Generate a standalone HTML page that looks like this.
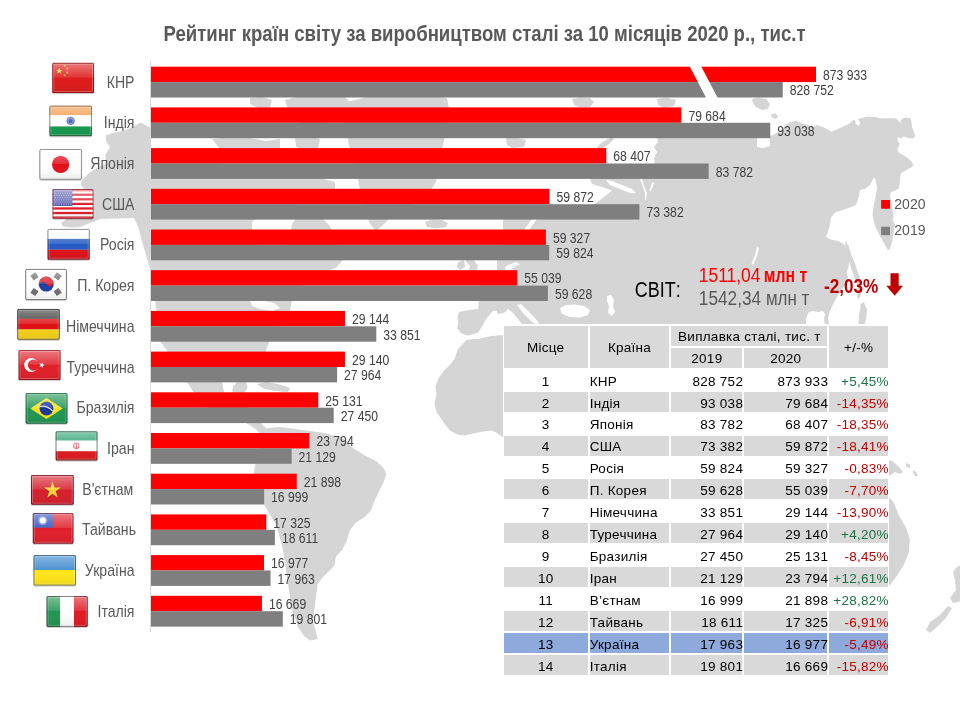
<!DOCTYPE html>
<html lang="uk">
<head>
<meta charset="utf-8">
<title>Рейтинг країн світу за виробництвом сталі</title>
<style>
html,body{margin:0;padding:0;background:#ffffff;}
body{width:960px;height:720px;position:relative;overflow:hidden;font-family:"Liberation Sans",sans-serif;}
svg#chart{position:absolute;left:0;top:0;will-change:transform;}
svg#chart text{font-family:"Liberation Sans",sans-serif;}
svg#chart text.v{font-size:15.5px;fill:#404040;}
svg#chart text.c{font-size:17.15px;fill:#595959;text-anchor:end;}
table#t{position:absolute;left:502.8px;top:324.2px;border-collapse:separate;border-spacing:0;table-layout:fixed;width:386.2px;font-family:"Liberation Sans",sans-serif;font-size:13.5px;letter-spacing:0.27px;color:#000;}
table#t td,table#t th{padding:0;box-sizing:border-box;border:1px solid #fff;white-space:nowrap;overflow:visible;font-weight:400;vertical-align:top;line-height:16px;}
table#t th{background:#d9d9d9;text-align:center;}
table#t tr.h1 th{height:22.9px;border-top-width:2px;padding-top:2.72px;padding-bottom:1.18px;}
table#t tr.h1 th[rowspan]{height:44.7px;padding-top:14.12px;padding-bottom:0;}
table#t tr.h2 th{height:21.8px;padding-top:2.92px;padding-bottom:0.88px;}
table#t tr td{height:21.93px;padding-top:3.72px;padding-bottom:0.21px;}
table#t td span{position:relative;left:0.9px;}
table#t tr.o td{background:#ffffff;}
table#t tr.e td{background:#d9d9d9;}
table#t tr.hl td{background:#8ea9db;}
table#t td.n{text-align:center;}
table#t td.k{text-align:left;padding-left:0.1px;}
table#t td.d{text-align:right;padding-right:0;}
table#t td.p{text-align:right;padding-right:0;}
table#t td.g{color:#1e7145;}
table#t td.r{color:#c00000;}
</style>
</head>
<body>
<svg id="chart" width="960" height="720" viewBox="0 0 960 720">
<g id="map" fill="#d5d5d5"><path d="M497,272 497,258 500,245 503,232 503,219 530,213 560,207 594,204.5 604,197 612,190.5 602,187 592,184 590,178.5 600,178.5 640,178.5 650,170 655,164 654,158 657,152 654,147 658,142 657,137 757,137 757,147 763,148 770,146 770,136 776,133.7 788.7,123 796,120.6 801,123 813.7,126.9 817,125 823,127 831.7,131.7 840,128 850,123.3 852,120.5 855,120 856,124 859,126 860,122 858,119 866.7,116.7 875,117 880,118.3 890,118.3 896,118.5 899,121 900.5,123.5 901,120 903,118 907,117.5 910.5,118.5 911.5,122 912,127 913.5,131 915.5,136 913,138.5 908,138 904,136.5 900.5,138.5 898,137 897.5,141 900,143.7 897.5,148.7 898.7,152.5 905,156 910,160 913.7,165 911.7,167 906.7,170 900.8,173.3 900,180 899,188.3 895,190.8 890.8,192 890,196.7 891.5,202.5 892.5,210 893.7,216 892.5,220 895,225 893.7,232.5 892.5,240 890,248.7 888,250.5 885,245 880,236 875,226 872.5,215 873.7,205 876,195 877,187.5 875.5,179 873.7,177.5 870,185 865,188.7 860,190 858.7,197.5 856,205 850,207.5 842.5,210 835,212.5 831,217.5 830,225 827.5,233 826,236.7 830.6,239.6 838,241 843.7,244 848,249.8 849.6,257 848.8,265.8 846.6,273 848,277.5 845,285 840,292 836.4,298 832,306.6 829.5,312.5 828,318.3 829,324 829,340 497,340Z"/>
<path d="M845,241 848.5,245.5 851,254 854.7,263 857.6,271.6 859.8,277.5 861.5,283 862,290 861,295 858.5,299.5 857,296 858,290 856.5,283 854,276 850.5,266 847.5,256 845.5,248Z"/>
<path d="M860.5,303.7 864,302.3 867,309.5 866.3,318.3 864,326 858.3,326 859,315.4 860.5,308Z"/>
<path d="M596,149 600,144 606,140 612,137 614,139 609,144 603,148 598,151Z"/>
<path d="M572,99 580,97.5 590,98 594,102 590,107 580,107.5 574,105Z"/>
<path d="M657,99 666,97.5 676,100 674,106 664,108 658,105Z"/>
<path d="M752,99 758,97.5 766,99 770,104 768,109 762,110 756,107 753,103Z"/>
<path d="M771,114 776,113.5 778,117 775,119 772,117.5Z"/>
<path d="M506,138 516,137.5 526,140 524,147 512,148 507,145Z"/>
<path d="M425,222 432,219.5 442,220 448,223 446,227 436,228.5 427,227Z"/>
<path d="M466,250 472,246 476,252 474,260 478,266 476,272 468,273 470,266 466,262Z"/>
<path d="M458,262 464,260 465,267 460,270 457,267Z"/>
<path d="M497,272 492,276 486,280 480,284 477,290 481,296 479,301 478,309 469,310 459,312 457.3,318 458.3,322 457.3,328.3 461.5,333.5 467.7,335.6 472,334.6 478,332.5 482.3,326.3 485.4,320 489.6,314.8 493,311 499,311 503,313 510,310 514,305 520,306 528,314 534,321 536,326 560,326 560,272Z"/>
<path d="M466.7,339.8 462.5,344 457.3,350.2 455.2,357.5 451,363.7 443.7,371 438.5,378.3 435.4,386.7 436.5,395 434.4,403.3 436.5,411.7 440.6,418 444.8,424.2 450,430.4 457.3,434.6 464.6,435.6 473,433.5 483.3,431.5 491.7,430.4 498,433.5 502,436.7 520,440 520,336 502,335.6 495.8,335.6 487.5,336.7 479,338.7 472,339.2Z"/>
<path d="M259.6,431 268,428 280,427 295,429 310,431 325,433 343.6,438.7 352.8,448 365,455.5 377.2,461.7 383.3,467.8 386.4,473.9 383.3,483 378.7,492.2 374.2,501.4 371.1,510.5 365,516.7 355.8,522.8 349.7,530.4 346.7,541.1 342.1,550.3 336,556.4 334.4,565.5 328.3,571.7 322.2,577.8 317.6,583.9 316.1,596.1 314.6,608.3 313,620.5 316.1,632.8 317.6,638.9 310,640.4 303.9,635.8 297.8,626.7 291.7,608.3 287.1,577.8 282.5,547.2 276.4,525.8 265.7,507.5 258,492.2 253.5,473.9 256.5,458.6 261.1,443.3Z"/>
<path d="M150,127.5 141,122.5 133.8,126 124.3,130.7 112.5,133 105.5,135.4 106.6,142.5 110.2,147.2 105.5,154.2 105.5,163.7 97,168 89,173 81.9,180.2 80.7,184.9 84,188 80,194 76,200 78,206 74,212 68,218 61,223 63,226.5 72,227.5 80,227 90,223 100.7,219 115,218.5 133.8,218 138.5,227.4 142,241.5 145.6,253.3 149,265 152,280 155,300 158,320 160,341 168,352 178,368 187,382 196,396 208,408 222,414 236,418 248,424 257,430 262,436 268,430 262,424 256,416 248,408 238,402 230,396 224,392 222,382 226,372 232,362 240,356 250,354 258,352 262,358 265,368 268,362 266,350 270,340 276,330 284,320 290,311 292,300 298,290 306,282 318,276 328,271 337,267 342,261 343,254 340,246 334,236 330,226 322,218 310,214 298,216 292,224 290,238 284,250 272,254 260,248 252,236 252,222 262,212 280,208 300,204 320,198 335,190 335,182 320,178 300,176 280,174 260,172 240,170 225,166 212,158 200,151 170,150 151,149Z"/>
<path d="M232,396 233,386 238,381.5 246,382 247.5,388 243,395 237,399Z"/>
<path d="M257,384 266,382 278,384 290,388 288,392 276,391 264,389Z"/>
<path d="M212,139 230,137 250,138 266,141 280,139 280,149 262,152 240,150 220,149Z"/>
<path d="M295,137 310,136 320,139 318,149 304,150 296,147Z"/>
<path d="M250,98 262,97 272,100 270,108 258,108 250,104Z"/>
<path d="M200,181 215,178 235,180 240,188 225,190 205,189Z"/>
<path d="M285,100 300,96 325,95 345,97 352,104 345,112 330,120 318,130 305,128 298,118 288,110Z"/>
<path d="M347,102 370,96 400,94 430,95 447,98 449,108 446,125 444,140 440,160 436,182 426,198 408,208 392,216 382,226 376,231 370,224 364,208 360,190 356,170 350,150 347,135 343,120Z"/>
<path d="M888,460 892,461 896,464 900,468 903,472 900,474 895,472 891,475 888,476Z"/>
<path d="M906,463 909,464 911,467 909,468 906,466Z"/>
<path d="M913,470 916,472 918,476 915,476 913,473Z"/>
<path d="M880,493 887.5,495 893.7,502.5 898.7,515 906,527.5 910,540 908.7,552.5 903.7,565 897.5,575 891,583.7 887.5,587.5 880,589Z"/>
<path d="M953,572 958,566 962,566 962,601 953,603 950,598 956,590 955,580Z"/>
<path d="M926,630 930,622 940,615 948,606 952,608 946,618 938,626 930,633Z"/>
<path fill="#ffffff" d="M808,313 812,311 818,312 823,311 825,314 824,319 825,325.5 806,325.5 806,319Z"/>
<path fill="#ffffff" d="M606,180 612,181 622,185 632,189 636,193 630,193 620,189 610,185Z"/>
<path fill="#ffffff" d="M640,179 642,179 644,186 647,193 646,200 645,200 645,193 642.5,186Z"/>
<path fill="#ffffff" d="M652,183 654,182 653,187 650,192 649.5,190Z"/>
<path fill="#ffffff" d="M532,219 537,219 529,230 524,230Z"/>
<path fill="#ffffff" d="M506,266 516,262 520,264 510,270 505,270Z"/>
<path fill="#ffffff" d="M478,333 482.5,327 485.5,320.5 489.5,315 493,311.5 499,314 505,312.5 508,309 512,312 518,319 523,325.5 503.75,325.5 503.75,335.2 496,335.2 487.5,336.3 479,338.3 473,338.8 472,335Z"/>
<path fill="#ffffff" d="M517,305 521,304 528,311 535,318 539,323 536,325 530,320 523,313Z"/>
<path fill="#ffffff" d="M560,308 566,305 575,304.5 584,306 590,310 588,315 580,317.5 570,317 562,314Z"/>
<path fill="#ffffff" d="M607,296 611,295 614,300 613,306 615,312 612,316 608,313 609,306 607,301Z"/>
<path fill="#ffffff" d="M757,247 759,248 757,256 753,265 751.5,264 755,255Z"/>
<path fill="#ffffff" d="M250,301 262,300.5 274,303 280,308 272,311 260,309 252,306Z"/></g>
<rect x="150" y="61" width="1" height="571" fill="#d9d9d9"/>
<rect x="151" y="66.7" width="665.00" height="15.4" fill="#ff0000"/>
<rect x="151" y="82.10" width="631.75" height="15.4" fill="#7f7f7f"/>
<text transform="translate(823.0,79.9) scale(0.786,1)" class="v">873 933</text>
<text transform="translate(789.8,95.3) scale(0.786,1)" class="v">828 752</text>
<text transform="translate(134.5,87.6) scale(0.822,1)" class="c">КНР</text>
<rect x="151" y="107.4" width="530.38" height="15.4" fill="#ff0000"/>
<rect x="151" y="122.80" width="619.26" height="15.4" fill="#7f7f7f"/>
<text transform="translate(688.4,120.6) scale(0.786,1)" class="v">79 684</text>
<text transform="translate(777.3,136.0) scale(0.786,1)" class="v">93 038</text>
<text transform="translate(134.5,128.3) scale(0.822,1)" class="c">Індія</text>
<rect x="151" y="148.1" width="455.32" height="15.4" fill="#ff0000"/>
<rect x="151" y="163.50" width="557.65" height="15.4" fill="#7f7f7f"/>
<text transform="translate(613.3,161.3) scale(0.786,1)" class="v">68 407</text>
<text transform="translate(715.7,176.7) scale(0.786,1)" class="v">83 782</text>
<text transform="translate(134.5,169.0) scale(0.822,1)" class="c">Японія</text>
<rect x="151" y="188.8" width="398.51" height="15.4" fill="#ff0000"/>
<rect x="151" y="204.20" width="488.43" height="15.4" fill="#7f7f7f"/>
<text transform="translate(556.5,202.0) scale(0.786,1)" class="v">59 872</text>
<text transform="translate(646.4,217.4) scale(0.786,1)" class="v">73 382</text>
<text transform="translate(134.5,209.7) scale(0.822,1)" class="c">США</text>
<rect x="151" y="229.5" width="394.88" height="15.4" fill="#ff0000"/>
<rect x="151" y="244.90" width="398.19" height="15.4" fill="#7f7f7f"/>
<text transform="translate(552.9,242.7) scale(0.786,1)" class="v">59 327</text>
<text transform="translate(556.2,258.1) scale(0.786,1)" class="v">59 824</text>
<text transform="translate(134.5,250.4) scale(0.822,1)" class="c">Росія</text>
<rect x="151" y="270.2" width="366.34" height="15.4" fill="#ff0000"/>
<rect x="151" y="285.60" width="396.88" height="15.4" fill="#7f7f7f"/>
<text transform="translate(524.3,283.4) scale(0.786,1)" class="v">55 039</text>
<text transform="translate(554.9,298.8) scale(0.786,1)" class="v">59 628</text>
<text transform="translate(134.5,291.1) scale(0.822,1)" class="c">П. Корея</text>
<rect x="151" y="310.9" width="193.98" height="15.4" fill="#ff0000"/>
<rect x="151" y="326.30" width="225.31" height="15.4" fill="#7f7f7f"/>
<text transform="translate(352.0,324.1) scale(0.786,1)" class="v">29 144</text>
<text transform="translate(383.3,339.5) scale(0.786,1)" class="v">33 851</text>
<text transform="translate(134.5,331.8) scale(0.822,1)" class="c">Німеччина</text>
<rect x="151" y="351.6" width="193.96" height="15.4" fill="#ff0000"/>
<rect x="151" y="367.00" width="186.13" height="15.4" fill="#7f7f7f"/>
<text transform="translate(352.0,364.8) scale(0.786,1)" class="v">29 140</text>
<text transform="translate(344.1,380.2) scale(0.786,1)" class="v">27 964</text>
<text transform="translate(134.5,372.5) scale(0.822,1)" class="c">Туреччина</text>
<rect x="151" y="392.3" width="167.27" height="15.4" fill="#ff0000"/>
<rect x="151" y="407.70" width="182.71" height="15.4" fill="#7f7f7f"/>
<text transform="translate(325.3,405.5) scale(0.786,1)" class="v">25 131</text>
<text transform="translate(340.7,420.9) scale(0.786,1)" class="v">27 450</text>
<text transform="translate(134.5,413.2) scale(0.822,1)" class="c">Бразилія</text>
<rect x="151" y="433.0" width="158.37" height="15.4" fill="#ff0000"/>
<rect x="151" y="448.40" width="140.63" height="15.4" fill="#7f7f7f"/>
<text transform="translate(316.4,446.2) scale(0.786,1)" class="v">23 794</text>
<text transform="translate(298.6,461.6) scale(0.786,1)" class="v">21 129</text>
<text transform="translate(134.5,453.9) scale(0.822,1)" class="c">Іран</text>
<rect x="151" y="473.7" width="145.75" height="15.4" fill="#ff0000"/>
<rect x="151" y="489.10" width="113.15" height="15.4" fill="#7f7f7f"/>
<text transform="translate(303.8,486.9) scale(0.786,1)" class="v">21 898</text>
<text transform="translate(271.1,502.3) scale(0.786,1)" class="v">16 999</text>
<text transform="translate(133.3,494.6) scale(0.822,1)" class="c">В'єтнам</text>
<rect x="151" y="514.4" width="115.32" height="15.4" fill="#ff0000"/>
<rect x="151" y="529.80" width="123.87" height="15.4" fill="#7f7f7f"/>
<text transform="translate(273.3,527.6) scale(0.786,1)" class="v">17 325</text>
<text transform="translate(281.9,543.0) scale(0.786,1)" class="v">18 611</text>
<text transform="translate(136,535.3) scale(0.822,1)" class="c">Тайвань</text>
<rect x="151" y="555.1" width="113.00" height="15.4" fill="#ff0000"/>
<rect x="151" y="570.50" width="119.56" height="15.4" fill="#7f7f7f"/>
<text transform="translate(271.0,568.3) scale(0.786,1)" class="v">16 977</text>
<text transform="translate(277.6,583.7) scale(0.786,1)" class="v">17 963</text>
<text transform="translate(134.5,576.0) scale(0.822,1)" class="c">Україна</text>
<rect x="151" y="595.8" width="110.95" height="15.4" fill="#ff0000"/>
<rect x="151" y="611.20" width="131.80" height="15.4" fill="#7f7f7f"/>
<text transform="translate(268.9,609.0) scale(0.786,1)" class="v">16 669</text>
<text transform="translate(289.8,624.4) scale(0.786,1)" class="v">19 801</text>
<text transform="translate(134.5,616.7) scale(0.822,1)" class="c">Італія</text>
<polygon points="689.5,66 701,66 718,98.5 706.5,98.5" fill="#ffffff"/>
<g id="flags"><defs>
<linearGradient id="gloss" x1="0" y1="0" x2="0" y2="1"><stop offset="0" stop-color="#fff" stop-opacity="0.42"/><stop offset="0.48" stop-color="#fff" stop-opacity="0.12"/><stop offset="0.5" stop-color="#fff" stop-opacity="0"/><stop offset="1" stop-color="#000" stop-opacity="0.08"/></linearGradient>
<clipPath id="c_cn"><rect x="52.25" y="62.75" width="41.75" height="30.35" rx="1.1"/></clipPath>
<clipPath id="c_in"><rect x="49.4" y="105.6" width="42.5" height="30.65" rx="1.1"/></clipPath>
<clipPath id="c_jp"><rect x="39.4" y="149" width="42.5" height="30.75" rx="1.1"/></clipPath>
<clipPath id="c_us"><rect x="52.5" y="189" width="41" height="29.75" rx="1.1"/></clipPath>
<clipPath id="c_ru"><rect x="47.5" y="228.9" width="42.25" height="30.85" rx="1.1"/></clipPath>
<clipPath id="c_kr"><rect x="25.25" y="268.9" width="41.65" height="31.1" rx="1.1"/></clipPath>
<clipPath id="c_de"><rect x="17.25" y="308.9" width="42.5" height="30.85" rx="1.1"/></clipPath>
<clipPath id="c_tr"><rect x="18.5" y="350" width="42.1" height="30" rx="1.1"/></clipPath>
<clipPath id="c_br"><rect x="25.6" y="393.1" width="41.9" height="30.65" rx="1.1"/></clipPath>
<clipPath id="c_ir"><rect x="55.6" y="431.25" width="41.9" height="29.35" rx="1.1"/></clipPath>
<clipPath id="c_vn"><rect x="31" y="475" width="42.75" height="29.75" rx="1.1"/></clipPath>
<clipPath id="c_tw"><rect x="32.75" y="513.1" width="40.75" height="30.65" rx="1.1"/></clipPath>
<clipPath id="c_ua"><rect x="33.5" y="555" width="42.5" height="30.6" rx="1.1"/></clipPath>
<clipPath id="c_it"><rect x="46.5" y="596" width="41.25" height="30.9" rx="1.1"/></clipPath>
</defs>
<rect x="51.95" y="63.55" width="42.35" height="30.75" rx="2" fill="#000" opacity="0.16"/>
<g clip-path="url(#c_cn)"><rect x="52.25" y="62.75" width="41.75" height="30.35" fill="#de1a1a"/><polygon points="59.25,67.65 60.01,70.00 62.48,70.00 60.49,71.45 61.25,73.80 59.25,72.35 57.25,73.80 58.01,71.45 56.02,70.00 58.49,70.00" fill="#ffd92e"/><circle cx="64.55" cy="65.75" r="0.95" fill="#ffd92e" opacity="0.85"/><circle cx="67.25" cy="68.55" r="0.95" fill="#ffd92e" opacity="0.85"/><circle cx="67.25" cy="72.55" r="0.95" fill="#ffd92e" opacity="0.85"/><circle cx="64.55" cy="75.35" r="0.95" fill="#ffd92e" opacity="0.85"/><rect x="52.25" y="62.75" width="41.75" height="30.35" fill="url(#gloss)"/></g>
<rect x="53.75" y="64.25" width="38.75" height="27.35" rx="0.8" fill="none" stroke="#fff" stroke-opacity="0.28" stroke-width="1"/>
<rect x="52.75" y="63.25" width="40.75" height="29.35" rx="0.9" fill="none" stroke="#5a0000" stroke-opacity="0.55" stroke-width="1"/>
<rect x="49.1" y="106.4" width="43.1" height="31.05" rx="2" fill="#000" opacity="0.16"/>
<g clip-path="url(#c_in)"><rect x="49.4" y="105.6" width="42.5" height="9.6" fill="#f39a4a"/><rect x="49.4" y="115.2" width="42.5" height="11.3" fill="#ffffff"/><rect x="49.4" y="126.5" width="42.5" height="9.75" fill="#159a4c"/><circle cx="70.65" cy="120.8" r="4.1" fill="#8fa3d6"/><circle cx="70.65" cy="120.8" r="2.2" fill="#4a63b5"/><circle cx="70.65" cy="120.8" r="3.6" fill="none" stroke="#4a63b5" stroke-width="0.8" opacity="0.8"/><rect x="49.4" y="105.6" width="42.5" height="30.65" fill="url(#gloss)"/></g>
<rect x="50.9" y="107.1" width="39.5" height="27.65" rx="0.8" fill="none" stroke="#fff" stroke-opacity="0.28" stroke-width="1"/>
<rect x="49.9" y="106.1" width="41.5" height="29.65" rx="0.9" fill="none" stroke="#3a2a1a" stroke-opacity="0.5" stroke-width="1"/>
<rect x="39.1" y="149.8" width="43.1" height="31.15" rx="2" fill="#000" opacity="0.16"/>
<g clip-path="url(#c_jp)"><rect x="39.4" y="149" width="42.5" height="30.75" fill="#ffffff"/><circle cx="60.6" cy="164.4" r="8.6" fill="#e30f1c"/><rect x="39.4" y="149" width="42.5" height="30.75" fill="url(#gloss)"/></g>
<rect x="40.9" y="150.5" width="39.5" height="27.75" rx="0.8" fill="none" stroke="#fff" stroke-opacity="0.28" stroke-width="1"/>
<rect x="39.9" y="149.5" width="41.5" height="29.75" rx="0.9" fill="none" stroke="#000" stroke-opacity="0.42" stroke-width="1"/>
<rect x="52.2" y="189.8" width="41.6" height="30.15" rx="2" fill="#000" opacity="0.16"/>
<g clip-path="url(#c_us)"><rect x="52.5" y="189" width="41" height="29.75" fill="#ffffff"/><rect x="52.5" y="189" width="41" height="2.28846" fill="#e01a2a"/><rect x="52.5" y="193.577" width="41" height="2.28846" fill="#e01a2a"/><rect x="52.5" y="198.154" width="41" height="2.28846" fill="#e01a2a"/><rect x="52.5" y="202.731" width="41" height="2.28846" fill="#e01a2a"/><rect x="52.5" y="207.308" width="41" height="2.28846" fill="#e01a2a"/><rect x="52.5" y="211.885" width="41" height="2.28846" fill="#e01a2a"/><rect x="52.5" y="216.462" width="41" height="2.28846" fill="#e01a2a"/><rect x="52.5" y="189" width="20" height="17" fill="#5b5fb3"/><g fill="#fff" opacity="0.55"><circle cx="54.50" cy="191.00" r="0.6"/><circle cx="56.85" cy="191.00" r="0.6"/><circle cx="59.20" cy="191.00" r="0.6"/><circle cx="61.55" cy="191.00" r="0.6"/><circle cx="63.90" cy="191.00" r="0.6"/><circle cx="66.25" cy="191.00" r="0.6"/><circle cx="68.60" cy="191.00" r="0.6"/><circle cx="70.95" cy="191.00" r="0.6"/><circle cx="55.67" cy="193.20" r="0.6"/><circle cx="58.02" cy="193.20" r="0.6"/><circle cx="60.37" cy="193.20" r="0.6"/><circle cx="62.72" cy="193.20" r="0.6"/><circle cx="65.07" cy="193.20" r="0.6"/><circle cx="67.42" cy="193.20" r="0.6"/><circle cx="69.77" cy="193.20" r="0.6"/><circle cx="72.12" cy="193.20" r="0.6"/><circle cx="54.50" cy="195.40" r="0.6"/><circle cx="56.85" cy="195.40" r="0.6"/><circle cx="59.20" cy="195.40" r="0.6"/><circle cx="61.55" cy="195.40" r="0.6"/><circle cx="63.90" cy="195.40" r="0.6"/><circle cx="66.25" cy="195.40" r="0.6"/><circle cx="68.60" cy="195.40" r="0.6"/><circle cx="70.95" cy="195.40" r="0.6"/><circle cx="55.67" cy="197.60" r="0.6"/><circle cx="58.02" cy="197.60" r="0.6"/><circle cx="60.37" cy="197.60" r="0.6"/><circle cx="62.72" cy="197.60" r="0.6"/><circle cx="65.07" cy="197.60" r="0.6"/><circle cx="67.42" cy="197.60" r="0.6"/><circle cx="69.77" cy="197.60" r="0.6"/><circle cx="72.12" cy="197.60" r="0.6"/><circle cx="54.50" cy="199.80" r="0.6"/><circle cx="56.85" cy="199.80" r="0.6"/><circle cx="59.20" cy="199.80" r="0.6"/><circle cx="61.55" cy="199.80" r="0.6"/><circle cx="63.90" cy="199.80" r="0.6"/><circle cx="66.25" cy="199.80" r="0.6"/><circle cx="68.60" cy="199.80" r="0.6"/><circle cx="70.95" cy="199.80" r="0.6"/><circle cx="55.67" cy="202.00" r="0.6"/><circle cx="58.02" cy="202.00" r="0.6"/><circle cx="60.37" cy="202.00" r="0.6"/><circle cx="62.72" cy="202.00" r="0.6"/><circle cx="65.07" cy="202.00" r="0.6"/><circle cx="67.42" cy="202.00" r="0.6"/><circle cx="69.77" cy="202.00" r="0.6"/><circle cx="72.12" cy="202.00" r="0.6"/><circle cx="54.50" cy="204.20" r="0.6"/><circle cx="56.85" cy="204.20" r="0.6"/><circle cx="59.20" cy="204.20" r="0.6"/><circle cx="61.55" cy="204.20" r="0.6"/><circle cx="63.90" cy="204.20" r="0.6"/><circle cx="66.25" cy="204.20" r="0.6"/><circle cx="68.60" cy="204.20" r="0.6"/><circle cx="70.95" cy="204.20" r="0.6"/></g><rect x="52.5" y="189" width="41" height="29.75" fill="url(#gloss)"/></g>
<rect x="54" y="190.5" width="38" height="26.75" rx="0.8" fill="none" stroke="#fff" stroke-opacity="0.28" stroke-width="1"/>
<rect x="53" y="189.5" width="40" height="28.75" rx="0.9" fill="none" stroke="#5a0010" stroke-opacity="0.5" stroke-width="1"/>
<rect x="47.2" y="229.7" width="42.85" height="31.25" rx="2" fill="#000" opacity="0.16"/>
<g clip-path="url(#c_ru)"><rect x="47.5" y="228.9" width="42.25" height="10" fill="#ffffff"/><rect x="47.5" y="238.9" width="42.25" height="10.85" fill="#2559c4"/><rect x="47.5" y="249.75" width="42.25" height="10" fill="#e0121a"/><rect x="47.5" y="228.9" width="42.25" height="30.85" fill="url(#gloss)"/></g>
<rect x="49" y="230.4" width="39.25" height="27.85" rx="0.8" fill="none" stroke="#fff" stroke-opacity="0.28" stroke-width="1"/>
<rect x="48" y="229.4" width="41.25" height="29.85" rx="0.9" fill="none" stroke="#101030" stroke-opacity="0.45" stroke-width="1"/>
<rect x="24.95" y="269.7" width="42.25" height="31.5" rx="2" fill="#000" opacity="0.16"/>
<g clip-path="url(#c_kr)"><rect x="25.25" y="268.9" width="41.65" height="31.1" fill="#ffffff"/><circle cx="46.25" cy="284.1" r="7.5" fill="#1f3fa0"/><path d="M38.75,284.1 A7.5,7.5 0 0 1 53.75,284.1 A3.75,3.75 0 0 1 46.25,284.1 A3.75,3.75 0 0 0 38.75,284.1Z" fill="#e0202a" transform="rotate(-28 46.25 284.1)"/><rect x="-3" y="-2.9" width="6" height="5.8" transform="translate(34.45,276.4) rotate(-35)" fill="#555" opacity="0.85"/><rect x="-3" y="-2.9" width="6" height="5.8" transform="translate(57.65,276.4) rotate(35)" fill="#555" opacity="0.85"/><rect x="-3" y="-2.9" width="6" height="5.8" transform="translate(34.45,292) rotate(35)" fill="#555" opacity="0.85"/><rect x="-3" y="-2.9" width="6" height="5.8" transform="translate(57.65,292) rotate(-35)" fill="#555" opacity="0.85"/><rect x="25.25" y="268.9" width="41.65" height="31.1" fill="url(#gloss)"/></g>
<rect x="26.75" y="270.4" width="38.65" height="28.1" rx="0.8" fill="none" stroke="#fff" stroke-opacity="0.28" stroke-width="1"/>
<rect x="25.75" y="269.4" width="40.65" height="30.1" rx="0.9" fill="none" stroke="#000" stroke-opacity="0.5" stroke-width="1"/>
<rect x="16.95" y="309.7" width="43.1" height="31.25" rx="2" fill="#000" opacity="0.16"/>
<g clip-path="url(#c_de)"><rect x="17.25" y="308.9" width="42.5" height="10" fill="#3a3a3a"/><rect x="17.25" y="318.9" width="42.5" height="10.6" fill="#e01014"/><rect x="17.25" y="329.5" width="42.5" height="10.25" fill="#f7d116"/><rect x="17.25" y="308.9" width="42.5" height="30.85" fill="url(#gloss)"/></g>
<rect x="18.75" y="310.4" width="39.5" height="27.85" rx="0.8" fill="none" stroke="#fff" stroke-opacity="0.28" stroke-width="1"/>
<rect x="17.75" y="309.4" width="41.5" height="29.85" rx="0.9" fill="none" stroke="#000" stroke-opacity="0.5" stroke-width="1"/>
<rect x="18.2" y="350.8" width="42.7" height="30.4" rx="2" fill="#000" opacity="0.16"/>
<g clip-path="url(#c_tr)"><rect x="18.5" y="350" width="42.1" height="30" fill="#e01e28"/><circle cx="31.25" cy="365.1" r="7" fill="#fff"/><circle cx="33.4" cy="365.1" r="5.6" fill="#e01e28"/><polygon points="42.86,362.15 42.86,364.40 45.00,365.10 42.86,365.80 42.86,368.05 41.53,366.23 39.39,366.92 40.72,365.10 39.39,363.28 41.53,363.97" fill="#fff"/><rect x="18.5" y="350" width="42.1" height="30" fill="url(#gloss)"/></g>
<rect x="20" y="351.5" width="39.1" height="27" rx="0.8" fill="none" stroke="#fff" stroke-opacity="0.28" stroke-width="1"/>
<rect x="19" y="350.5" width="41.1" height="29" rx="0.9" fill="none" stroke="#5a0008" stroke-opacity="0.5" stroke-width="1"/>
<rect x="25.3" y="393.9" width="42.5" height="31.05" rx="2" fill="#000" opacity="0.16"/>
<g clip-path="url(#c_br)"><rect x="25.6" y="393.1" width="41.9" height="30.65" fill="#219652"/><polygon points="30.3,408.5 46.5,397.9 62.7,408.5 46.5,419.1" fill="#fbe122"/><circle cx="46.5" cy="408.5" r="6.9" fill="#1a3796"/><path d="M39.9,406.5 Q46.5,404.9 52.9,411.1" fill="none" stroke="#fff" stroke-width="1.1" opacity="0.85"/><rect x="25.6" y="393.1" width="41.9" height="30.65" fill="url(#gloss)"/></g>
<rect x="27.1" y="394.6" width="38.9" height="27.65" rx="0.8" fill="none" stroke="#fff" stroke-opacity="0.28" stroke-width="1"/>
<rect x="26.1" y="393.6" width="40.9" height="29.65" rx="0.9" fill="none" stroke="#00301a" stroke-opacity="0.5" stroke-width="1"/>
<rect x="55.3" y="432.05" width="42.5" height="29.75" rx="2" fill="#000" opacity="0.16"/>
<g clip-path="url(#c_ir)"><rect x="55.6" y="431.25" width="41.9" height="9.4" fill="#2ea370"/><rect x="55.6" y="440.65" width="41.9" height="10.6" fill="#ffffff"/><rect x="55.6" y="451.25" width="41.9" height="9.35" fill="#e01a1e"/><circle cx="76.3" cy="445.65" r="2.7" fill="none" stroke="#ee7a84" stroke-width="1.1"/><rect x="75.9" y="443.25" width="0.9" height="5.6" fill="#e65a66"/><rect x="55.6" y="431.25" width="41.9" height="29.35" fill="url(#gloss)"/></g>
<rect x="57.1" y="432.75" width="38.9" height="26.35" rx="0.8" fill="none" stroke="#fff" stroke-opacity="0.28" stroke-width="1"/>
<rect x="56.1" y="431.75" width="40.9" height="28.35" rx="0.9" fill="none" stroke="#102818" stroke-opacity="0.5" stroke-width="1"/>
<rect x="30.7" y="475.8" width="43.35" height="30.15" rx="2" fill="#000" opacity="0.16"/>
<g clip-path="url(#c_vn)"><rect x="31" y="475" width="42.75" height="29.75" fill="#d51f2c"/><polygon points="52.50,481.50 54.48,487.58 60.87,487.58 55.70,491.34 57.67,497.42 52.50,493.66 47.33,497.42 49.30,491.34 44.13,487.58 50.52,487.58" fill="#fbd42e"/><rect x="31" y="475" width="42.75" height="29.75" fill="url(#gloss)"/></g>
<rect x="32.5" y="476.5" width="39.75" height="26.75" rx="0.8" fill="none" stroke="#fff" stroke-opacity="0.28" stroke-width="1"/>
<rect x="31.5" y="475.5" width="41.75" height="28.75" rx="0.9" fill="none" stroke="#4a0010" stroke-opacity="0.6" stroke-width="1"/>
<rect x="32.45" y="513.9" width="41.35" height="31.05" rx="2" fill="#000" opacity="0.16"/>
<g clip-path="url(#c_tw)"><rect x="32.75" y="513.1" width="40.75" height="30.65" fill="#e01e2a"/><rect x="32.75" y="513.1" width="20" height="14.6" fill="#2f4fbe"/><circle cx="42.75" cy="520.6" r="4.6" fill="#fff" opacity="0.35"/><circle cx="42.75" cy="520.6" r="3" fill="#fff"/><rect x="32.75" y="513.1" width="40.75" height="30.65" fill="url(#gloss)"/></g>
<rect x="34.25" y="514.6" width="37.75" height="27.65" rx="0.8" fill="none" stroke="#fff" stroke-opacity="0.28" stroke-width="1"/>
<rect x="33.25" y="513.6" width="39.75" height="29.65" rx="0.9" fill="none" stroke="#4a0010" stroke-opacity="0.5" stroke-width="1"/>
<rect x="33.2" y="555.8" width="43.1" height="31" rx="2" fill="#000" opacity="0.16"/>
<g clip-path="url(#c_ua)"><rect x="33.5" y="555" width="42.5" height="15" fill="#3585cc"/><rect x="33.5" y="570" width="42.5" height="15.6" fill="#ffe619"/><rect x="33.5" y="555" width="42.5" height="30.6" fill="url(#gloss)"/></g>
<rect x="35" y="556.5" width="39.5" height="27.6" rx="0.8" fill="none" stroke="#fff" stroke-opacity="0.28" stroke-width="1"/>
<rect x="34" y="555.5" width="41.5" height="29.6" rx="0.9" fill="none" stroke="#1a2a3a" stroke-opacity="0.5" stroke-width="1"/>
<rect x="46.2" y="596.8" width="41.85" height="31.3" rx="2" fill="#000" opacity="0.16"/>
<g clip-path="url(#c_it)"><rect x="46.5" y="596" width="13.75" height="30.9" fill="#1f9650"/><rect x="60.25" y="596" width="13.75" height="30.9" fill="#ffffff"/><rect x="74" y="596" width="13.75" height="30.9" fill="#e01824"/><rect x="46.5" y="596" width="41.25" height="30.9" fill="url(#gloss)"/></g>
<rect x="48" y="597.5" width="38.25" height="27.9" rx="0.8" fill="none" stroke="#fff" stroke-opacity="0.28" stroke-width="1"/>
<rect x="47" y="596.5" width="40.25" height="29.9" rx="0.9" fill="none" stroke="#201010" stroke-opacity="0.5" stroke-width="1"/></g>
<text x="163.5" y="40.6" textLength="642" lengthAdjust="spacingAndGlyphs" font-size="21.4" font-weight="700" fill="#595959">Рейтинг країн світу за виробництвом сталі за 10 місяців 2020 р., тис.т</text>
<rect x="881.1" y="200" width="8.9" height="8.7" fill="#ff0000"/>
<rect x="881.1" y="226.7" width="8.9" height="8.5" fill="#7f7f7f"/>
<text x="894.3" y="208.6" textLength="31.2" lengthAdjust="spacingAndGlyphs" font-size="13.8" fill="#595959">2020</text>
<text x="894.3" y="235" textLength="31.2" lengthAdjust="spacingAndGlyphs" font-size="13.8" fill="#595959">2019</text>
<text x="634.7" y="297" textLength="46" lengthAdjust="spacingAndGlyphs" font-size="22.2" fill="#000000">СВІТ:</text>
<text x="698.8" y="281.6" textLength="61.7" lengthAdjust="spacingAndGlyphs" font-size="19.9" fill="#ff0000">1511,04</text>
<text x="763.8" y="281.6" textLength="43.4" lengthAdjust="spacingAndGlyphs" font-size="19.9" font-weight="700" fill="#ff0000">млн т</text>
<text x="698.8" y="304.7" textLength="62.3" lengthAdjust="spacingAndGlyphs" font-size="19.9" fill="#595959">1542,34</text>
<text x="765.9" y="304.7" textLength="43.3" lengthAdjust="spacingAndGlyphs" font-size="19.9" fill="#595959">млн т</text>
<text x="824" y="293" textLength="54.3" lengthAdjust="spacingAndGlyphs" font-size="20.3" font-weight="700" fill="#c00000">-2,03%</text>
<polygon points="890.5,273.3 898.7,273.3 898.7,285.8 903,285.8 894.7,295.8 886.3,285.8 890.5,285.8" fill="#c00000"/>
</svg>
<table id="t">
<colgroup><col style="width:85.8px"><col style="width:81.85px"><col style="width:72.85px"><col style="width:85px"><col style="width:60.7px"></colgroup>
<tr class="h1"><th rowspan="2">Місце</th><th rowspan="2">Країна</th><th colspan="2">Виплавка сталі, тис. т</th><th rowspan="2">+/-%</th></tr>
<tr class="h2"><th>2019</th><th>2020</th></tr>
<tr class="o"><td class="n">1</td><td class="k">КНР</td><td class="d"><span>828 752</span></td><td class="d"><span>873 933</span></td><td class="p g"><span>+5,45%</span></td></tr>
<tr class="e"><td class="n">2</td><td class="k">Індія</td><td class="d"><span>93 038</span></td><td class="d"><span>79 684</span></td><td class="p r"><span>-14,35%</span></td></tr>
<tr class="o"><td class="n">3</td><td class="k">Японія</td><td class="d"><span>83 782</span></td><td class="d"><span>68 407</span></td><td class="p r"><span>-18,35%</span></td></tr>
<tr class="e"><td class="n">4</td><td class="k">США</td><td class="d"><span>73 382</span></td><td class="d"><span>59 872</span></td><td class="p r"><span>-18,41%</span></td></tr>
<tr class="o"><td class="n">5</td><td class="k">Росія</td><td class="d"><span>59 824</span></td><td class="d"><span>59 327</span></td><td class="p r"><span>-0,83%</span></td></tr>
<tr class="e"><td class="n">6</td><td class="k">П. Корея</td><td class="d"><span>59 628</span></td><td class="d"><span>55 039</span></td><td class="p r"><span>-7,70%</span></td></tr>
<tr class="o"><td class="n">7</td><td class="k">Німеччина</td><td class="d"><span>33 851</span></td><td class="d"><span>29 144</span></td><td class="p r"><span>-13,90%</span></td></tr>
<tr class="e"><td class="n">8</td><td class="k">Туреччина</td><td class="d"><span>27 964</span></td><td class="d"><span>29 140</span></td><td class="p g"><span>+4,20%</span></td></tr>
<tr class="o"><td class="n">9</td><td class="k">Бразилія</td><td class="d"><span>27 450</span></td><td class="d"><span>25 131</span></td><td class="p r"><span>-8,45%</span></td></tr>
<tr class="e"><td class="n">10</td><td class="k">Іран</td><td class="d"><span>21 129</span></td><td class="d"><span>23 794</span></td><td class="p g"><span>+12,61%</span></td></tr>
<tr class="o"><td class="n">11</td><td class="k">В’єтнам</td><td class="d"><span>16 999</span></td><td class="d"><span>21 898</span></td><td class="p g"><span>+28,82%</span></td></tr>
<tr class="e"><td class="n">12</td><td class="k">Тайвань</td><td class="d"><span>18 611</span></td><td class="d"><span>17 325</span></td><td class="p r"><span>-6,91%</span></td></tr>
<tr class="hl"><td class="n">13</td><td class="k">Україна</td><td class="d"><span>17 963</span></td><td class="d"><span>16 977</span></td><td class="p r"><span>-5,49%</span></td></tr>
<tr class="e"><td class="n">14</td><td class="k">Італія</td><td class="d"><span>19 801</span></td><td class="d"><span>16 669</span></td><td class="p r"><span>-15,82%</span></td></tr>
</table>
</body>
</html>
